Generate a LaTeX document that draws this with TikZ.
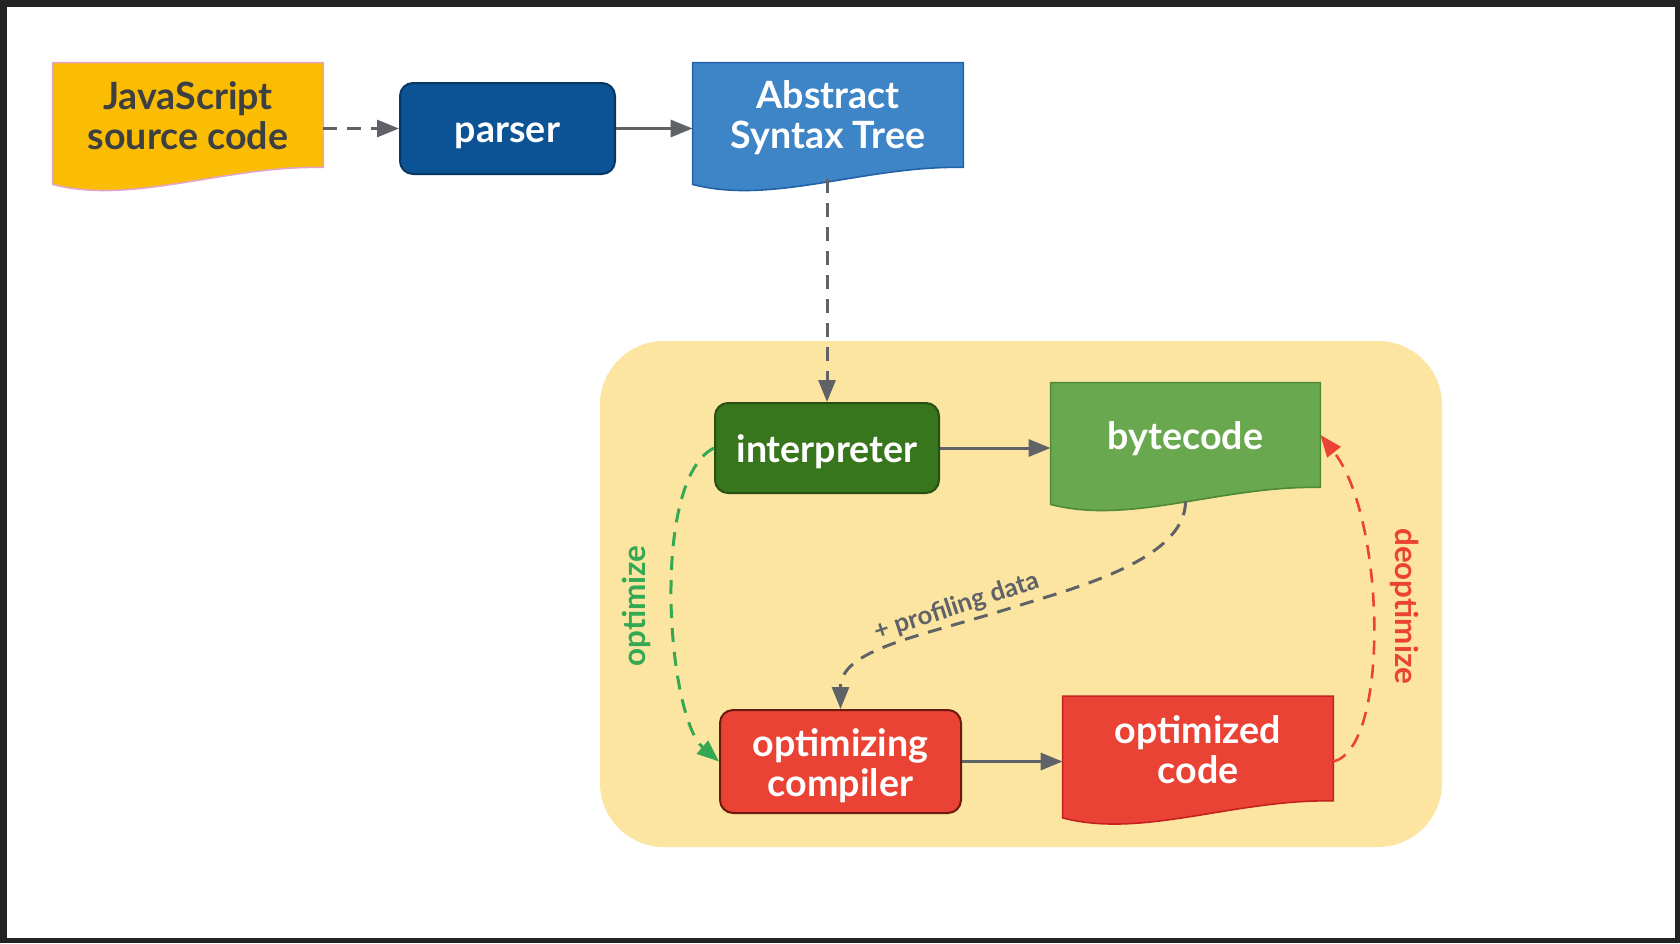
\documentclass[tikz,border=0pt]{standalone}
\usepackage{fontspec}
\setmainfont{Lato}
\usetikzlibrary{arrows.meta,calc}
\definecolor{frame}{HTML}{232323}
\definecolor{jsfill}{HTML}{FBBC04}
\definecolor{jsline}{HTML}{E2A6C6}
\definecolor{textdark}{HTML}{3C4043}
\definecolor{parserfill}{HTML}{0B5394}
\definecolor{parserline}{HTML}{073763}
\definecolor{astfill}{HTML}{3D85C6}
\definecolor{astline}{HTML}{2462A8}
\definecolor{intfill}{HTML}{38761D}
\definecolor{intline}{HTML}{274E13}
\definecolor{bcfill}{HTML}{6AA84F}
\definecolor{bcline}{HTML}{4E8A36}
\definecolor{redfill}{HTML}{EA4335}
\definecolor{redline}{HTML}{6B1A0F}
\definecolor{ocline}{HTML}{C5221F}
\definecolor{zone}{HTML}{FCE5A1}
\definecolor{arrowgray}{HTML}{5F6368}
\definecolor{optgreen}{HTML}{34A853}
\definecolor{deopred}{HTML}{EA4335}
\tikzset{
  boxtext/.style={font=\fontsize{18.8}{20}\selectfont\bfseries, align=center, text=white, inner sep=0pt},
  docnode/.style={inner sep=0pt, minimum width=135pt, minimum height=52pt},
  roundbox/.style={inner sep=0pt, rounded corners=6.5pt, line width=1pt},
  conn/.style={draw=arrowgray, line width=1.5pt, -{Triangle[length=11pt,width=8.5pt]}},
  dashconn/.style={conn, dash pattern=on 7pt off 5pt},
  sidelabel/.style={font=\fontsize{15.7}{16}\selectfont\bfseries, inner sep=0pt},
}
\newcommand{\docwave}[3]{%
  \path[fill=#2, draw=#3, line width=0.8pt]
    (#1.north west) -- (#1.north east) -- (#1.south east)
    .. controls +(-99,-2) and +(80,21) .. ($(#1.south west)+(0,17)$) -- cycle;}
\begin{document}
\begin{tikzpicture}[x=0.5pt, y=-0.5pt]
\useasboundingbox (0,0) rectangle (1680,943);
\fill[frame] (0,0) rectangle (1680,943);
\fill[white] (7,7) rectangle (1675,938);
% zone
\fill[zone, rounded corners=32pt] (600,341) rectangle (1442,847);

% nodes (shapes drawn by name)
\node[docnode] (js) at (188,115) {};
\docwave{js}{jsfill}{jsline}
\node[boxtext, text=textdark] (jst) at ($(js)+(0,1)$) {JavaScript\\source code};

\node[roundbox, fill=parserfill, draw=parserline, minimum width=107.5pt, minimum height=45.5pt] (parser) at (507.5,128.5) {};
\node[boxtext] (parsert) at ($(parser)+(0,7)$) {parser};

\node[docnode] (ast) at (828,115) {};
\docwave{ast}{astfill}{astline}
\node[boxtext] (astt) at ($(ast)+(0,3)$) {Abstract\\Syntax Tree};

\node[roundbox, fill=intfill, draw=intline, minimum width=112pt, minimum height=45pt] (interp) at (827,448) {};
\node[boxtext] (interpt) at ($(interp)+(0,4)$) {interpreter};

\node[docnode, minimum width=134.5pt] (bc) at (1185.5,435) {};
\docwave{bc}{bcfill}{bcline}
\node[boxtext] (bct) at ($(bc)+(0,4)$) {bytecode};

\node[roundbox, fill=redfill, draw=redline, minimum width=120.5pt, minimum height=51.5pt] (optc) at (840.5,761.5) {};
\node[boxtext] (optct) at ($(optc)+(0,4)$) {optimizing\\compiler};

\node[docnode] (ocode) at (1198,748.5) {};
\docwave{ocode}{redfill}{ocline}
\node[boxtext] (ocodet) at ($(ocode)+(0,1.5)$) {optimized\\code};

% connectors
\draw[dashconn] (js.east |- parser.west) -- (parser.west);
\draw[conn] (parser.east) -- (parser.east -| ast.west);
\draw[dashconn] ([yshift=-6pt]interp.north |- ast.south) -- (interp.north);
\draw[conn] (interp.east) -- (interp.east -| bc.west);
\draw[conn] (optc.east) -- (optc.east -| ocode.west);

\coordinate (profmid) at (1014,607);
\draw[dashconn] ($(bc.south)+(0,14)$) .. controls +(0,59) and +(57,-18) .. (profmid)
  .. controls +(-95,30) and +(0,-60) .. (optc.north);
\node[font=\fontsize{12.8}{13}\selectfont\bfseries, text=arrowgray, inner sep=0pt, rotate=18] (prof) at (957,607) {+ profiling data};

\draw[dashconn, draw=optgreen] (interp.west) .. controls +(-64,32) and +(-52,-45) .. (optc.west);
\node[sidelabel, text=optgreen, rotate=90] (optl) at (636,606) {optimize};

\draw[dashconn, draw=deopred, line width=1.3pt] ($(ocode.east)+(0,13)$) .. controls +(57,-14) and +(65,82) .. (bc.east);
\node[sidelabel, text=deopred, rotate=-90] (deopl) at (1405,606) {deoptimize};
\end{tikzpicture}
\end{document}
